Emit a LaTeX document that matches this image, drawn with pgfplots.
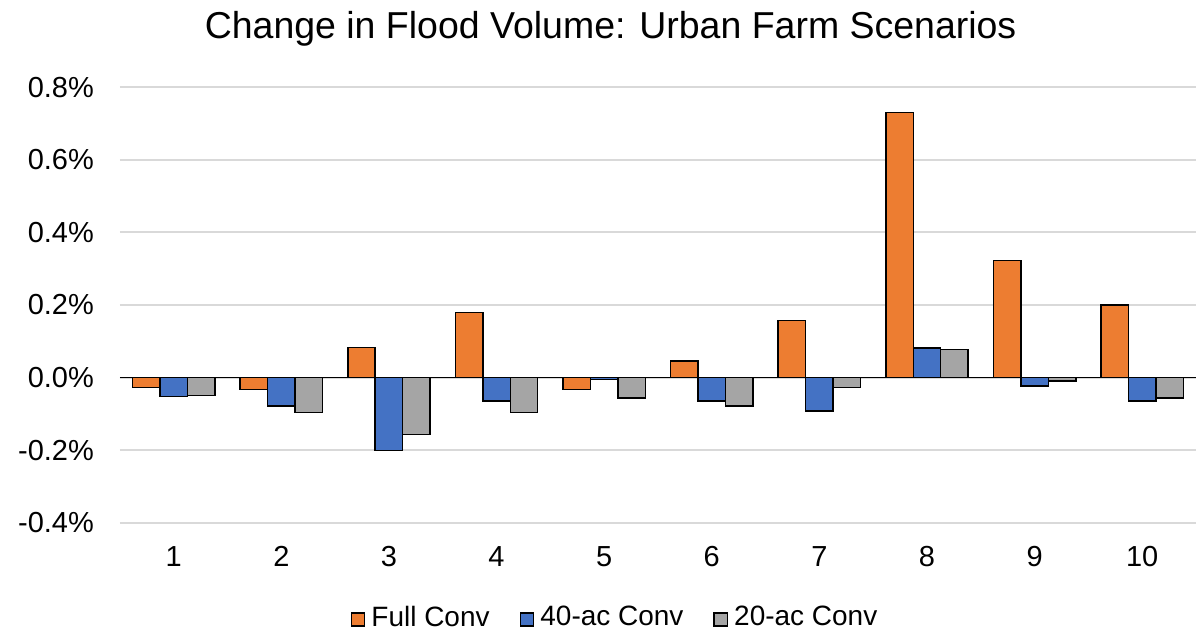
\documentclass[border=0pt]{standalone}
\usepackage{pgfplots}
\pgfplotsset{compat=1.18}
\usepackage{fontspec}
\setmainfont{Liberation Sans}
\definecolor{cOrange}{HTML}{ED7D31}
\definecolor{cBlue}{HTML}{4472C4}
\definecolor{cGray}{HTML}{A5A5A5}
\definecolor{cGrid}{HTML}{D9D9D9}
\begin{document}
\begin{tikzpicture}
\begin{axis}[
  scale only axis,
  width=538.5pt, height=217.75pt,
  xmin=0.5, xmax=10.5,
  ymin=-0.4, ymax=0.8,
  axis line style={draw=none},
  xtick={1,2,3,4,5,6,7,8,9,10},
  xticklabels={1,2,3,4,5,6,7,8,9,10},
  ytick={-0.4,-0.2,0,0.2,0.4,0.6,0.8},
  yticklabels={-0.4\%,-0.2\%,0.0\%,0.2\%,0.4\%,0.6\%,0.8\%},
  major tick length=0pt,
  ymajorgrids,
  grid style={cGrid, line width=1pt},
  tick label style={font=\fontsize{14.5}{16}\selectfont},
  xticklabel style={anchor=center, yshift=-17pt},
  yticklabel style={anchor=east, xshift=-9.5pt},
  ybar=0pt, bar width=0.255,
  title={Change in Flood Volume: Urban Farm Scenarios},
  title style={font=\fontsize{18.75}{22}\selectfont, at={(0.456,1)}, anchor=base, yshift=18.25pt},
  legend columns=3,
  legend style={draw=none, fill=none, inner sep=0pt, at={(0.2141,-0.2180)}, anchor=west,
    font=\fontsize{14}{16}\selectfont,
    nodes={inner sep=1pt},
    /tikz/every odd column/.append style={column sep=2pt},
    /tikz/every even column/.append style={column sep=14pt}},
  legend image code/.code={\draw[#1, line width=0.6pt] (0pt,-4.25pt) rectangle (6.8pt,2.25pt);},
  legend cell align=left,
  clip=false,
]
\addplot[fill=cOrange, draw=black, line width=0.75pt, bar shift=-0.255] coordinates {
(1,-0.027) (2,-0.033) (3,0.083) (4,0.179) (5,-0.033) (6,0.045) (7,0.157) (8,0.731) (9,0.323) (10,0.200)};
\addplot[fill=cBlue, draw=black, line width=0.75pt, bar shift=0] coordinates {
(1,-0.052) (2,-0.078) (3,-0.201) (4,-0.065) (5,-0.005) (6,-0.065) (7,-0.093) (8,0.082) (9,-0.024) (10,-0.065)};
\addplot[fill=cGray, draw=black, line width=0.75pt, bar shift=0.255] coordinates {
(1,-0.050) (2,-0.097) (3,-0.157) (4,-0.097) (5,-0.057) (6,-0.078) (7,-0.027) (8,0.077) (9,-0.010) (10,-0.056)};
\draw[black, line width=0.9pt] (axis cs:0.5,0) -- (axis cs:10.5,0);
\coordinate (SW) at (rel axis cs:0,0);
\coordinate (NE) at (rel axis cs:1,1);
\legend{Full Conv, 40-ac Conv, 20-ac Conv}
\end{axis}
\pgfresetboundingbox
\path ([shift={(-60pt,-54.5pt)}]SW) rectangle ([shift={(0.5pt,43.75pt)}]NE);
\end{tikzpicture}
\end{document}
